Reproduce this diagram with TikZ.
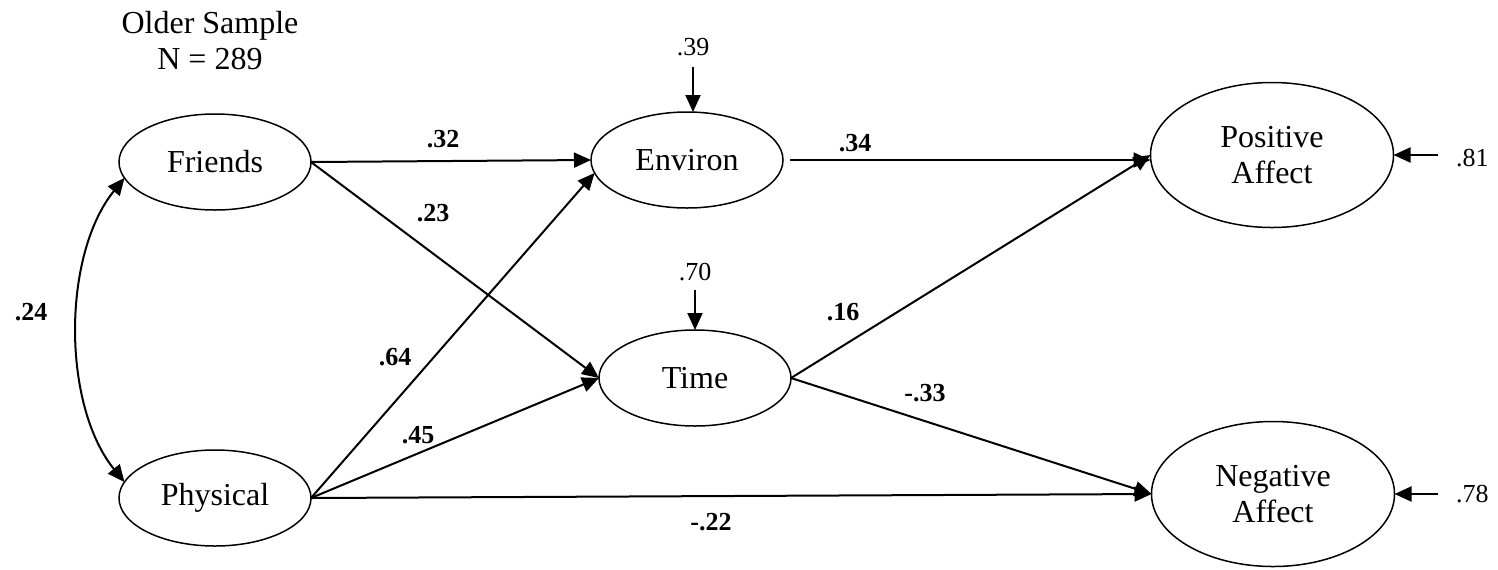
\documentclass[tikz,border=0pt]{standalone}
\usepackage{fontspec}
\setmainfont{Liberation Serif}
\usetikzlibrary{arrows.meta,positioning,shapes.geometric}

\begin{document}
\begin{tikzpicture}[
  x=0.5pt, y=-0.5pt,
  every node/.style={font=\fontsize{16}{18}\selectfont},
  latent/.style={draw,ellipse,line width=0.75pt,outer sep=0pt,inner sep=0pt,
                 minimum width=96pt,minimum height=48pt,align=center},
  outcome/.style={latent,minimum width=121.5pt,minimum height=72.5pt},
  coef/.style={font=\fontsize{13}{15}\selectfont\bfseries},
  resid/.style={font=\fontsize{13}{15}\selectfont},
  path/.style={line width=1pt,-{Triangle[length=8.5pt,width=7.5pt]}},
]
\useasboundingbox (0,0) rectangle (1498,569);
\node[align=center] (title) at (210,41) {Older Sample\\N = 289};
\node[latent] (fr) at (215,162) {Friends};
\node[latent] (ph) at (215,498) {Physical};
\node[latent] (env) at (687,160) {Environ};
\node[latent] (tm) at (695,378) {Time};
\node[outcome] (pos) at (1272,155) {Positive\\Affect};
\node[outcome] (neg) at (1273,494) {Negative\\Affect};

\draw[path,{Triangle[length=8.5pt,width=7.5pt]}-{Triangle[length=8.5pt,width=7.5pt]}]
  (fr.190) .. controls (62,255) and (62,405) .. (ph.170);
\draw[path] (fr.east) -- (env.west);
\draw[path] (fr.east) -- (tm.west);
\draw[path] (ph.east) -- (env.188);
\draw[path] (ph.east) -- (tm.west);
\draw[path] (ph.east) -- (neg.west);
\draw[path] ([xshift=3.5pt]env.east) -- (env.east -| pos.west);
\draw[path] (tm.east) -- (pos.west);
\draw[path] (tm.east) -- (neg.west);

\node[coef] (c24) at (31,312) {.24};
\node[coef] (c32) at (443,139) {.32};
\node[coef] (c23) at (433,213) {.23};
\node[coef] (c64) at (395,357) {.64};
\node[coef] (c45) at (418,435) {.45};
\node[coef] (c22) at (711,522) {-.22};
\node[coef] (c34) at (855,143) {.34};
\node[coef] (c16) at (843,312) {.16};
\node[coef] (c33) at (925,393) {-.33};

\node[resid] (r39) at (693,47) {.39};
\node[resid] (r70) at (695,272) {.70};
\node[resid,anchor=west] (r81) at (1449,158) {.81};
\node[resid,anchor=west] (r78) at (1449,494) {.78};
\draw[path] ([yshift=-2pt]r39.south) -- (r39.south |- env.north);
\draw[path] ([yshift=-1pt]r70.south) -- (r70.south |- tm.north);
\draw[path] ([xshift=-5.5pt]r81.west |- pos.east) -- (pos.east);
\draw[path] ([xshift=-5.5pt]r78.west |- neg.east) -- (neg.east);
\end{tikzpicture}
\end{document}
